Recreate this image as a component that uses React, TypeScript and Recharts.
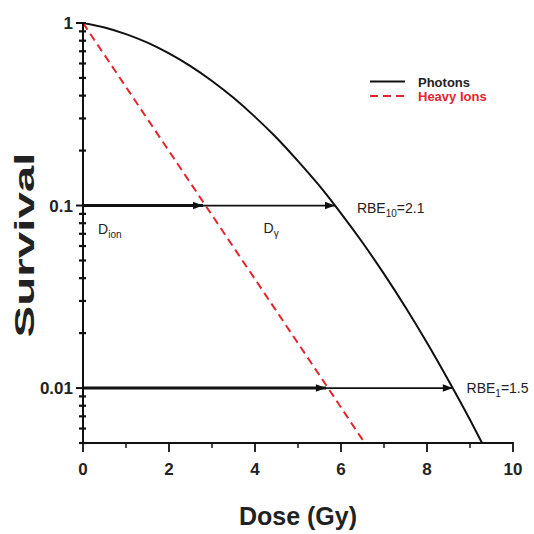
import React from "react";
import {
  LineChart,
  Line,
  XAxis,
  YAxis,
  Legend,
  Label,
  ReferenceDot,
} from "recharts";

// survival vs dose
const photonDose = [0, 0.5, 1, 1.5, 2, 2.5, 3, 3.5, 4, 4.5, 5, 5.5, 6, 6.5, 7, 7.5, 8, 8.5, 9, 9.28];
const photonSurvival = [
  1, 0.945, 0.869, 0.78, 0.681, 0.58, 0.481, 0.389, 0.306, 0.235, 0.175, 0.128, 0.0906, 0.0627,
  0.0422, 0.0277, 0.0177, 0.011, 0.0067, 0.005,
];

const ionDose = [0, 2.85, 5.7, 6.55];
const ionSurvival = [1, 0.1, 0.01, 0.005];

// iso-effect arrows: survival level, ion dose, photon dose
const isoLevels = [0.1, 0.01];
const isoIonDose = [2.79, 5.65];
const isoPhotonDose = [5.86, 8.6];
const rbeSubscripts = ["10", "1"];
const rbeValues = [2.1, 1.5];

const legendOrder = ["Photons", "Heavy Ions"];

const xTicks = [0, 1, 2, 3, 4, 5, 6, 7, 8, 9, 10];
const xLabelTicks = [0, 2, 4, 6, 8, 10];
const yMajorTicks = [0.01, 0.1, 1];
const yMinorTicks = [
  0.005, 0.006, 0.007, 0.008, 0.009,
  0.02, 0.03, 0.04, 0.05, 0.06, 0.07, 0.08, 0.09,
  0.2, 0.3, 0.4, 0.5, 0.6, 0.7, 0.8, 0.9,
];

const FONT = '"Liberation Sans", Arial, Helvetica, sans-serif';
const INK = "#111";
const RED = "#e3262d";

const rows = (xs: number[], ys: number[]) => xs.map((dose, i) => ({ dose, s: ys[i] }));

const photonRows = rows(photonDose, photonSurvival);
const ionRows = rows(ionDose, ionSurvival);

const arrowHead = (p: any) => {
  if (p.index !== 1 || p.cx == null) return <g key={p.key} />;
  const { cx, cy } = p;
  return (
    <polygon
      key={p.key}
      points={`${cx},${cy} ${cx - 10},${cy - 3.8} ${cx - 10},${cy + 3.8}`}
      fill={INK}
    />
  );
};

function XTick({ x, y, payload }: any) {
  const v = payload.value;
  const major = xLabelTicks.includes(v);
  return (
    <g>
      <line x1={x} x2={x} y1={y - 1} y2={y + (major ? 9 : 5)} stroke={INK} strokeWidth={major ? 1.8 : 1.5} />
      {major && (
        <text x={x} y={y + 32} textAnchor="middle" fontFamily={FONT} fontWeight="bold" fontSize={17} fill="#222">
          {v}
        </text>
      )}
    </g>
  );
}

function YTick({ x, y, payload }: any) {
  const v = payload.value;
  const major = yMajorTicks.includes(v);
  return (
    <g>
      <line x1={x - (major ? 7 : 4)} x2={x + 3} y1={y} y2={y} stroke={INK} strokeWidth={major ? 2 : 2.2} />
      {major && (
        <text x={x - 10} y={y + 6} textAnchor="end" fontFamily={FONT} fontWeight="bold" fontSize={17} fill="#222">
          {v}
        </text>
      )}
    </g>
  );
}

// text with a subscript, placed relative to a ReferenceDot
const subText = (main: string, sub: string, tail: string, dx: number, dy: number) => (props: any) => {
  const { x, y } = props.viewBox;
  return (
    <text x={x + dx} y={y + dy} fontFamily={FONT} fontSize={14} fill="#222">
      {main}
      <tspan dy={4} fontSize={10}>
        {sub}
      </tspan>
      <tspan dy={-4}>{tail}</tspan>
    </text>
  );
};

const renderLegend = ({ payload }: any) => {
  const entries = (payload || [])
    .filter((e: any) => e.type !== "none" && legendOrder.includes(e.value))
    .sort((a: any, b: any) => legendOrder.indexOf(a.value) - legendOrder.indexOf(b.value));
  return (
    <svg width={170} height={36}>
      {entries.map((e: any, i: number) => (
        <g key={e.value} transform={`translate(0, ${i * 14.5})`}>
          <line
            x1={8}
            x2={43}
            y1={11.5}
            y2={11.5}
            stroke={e.color}
            strokeWidth={2}
            strokeDasharray={e.payload?.strokeDasharray}
          />
          <text x={56} y={16.5} fill={e.color === INK ? "#222" : e.color} fontFamily={FONT} fontWeight="bold" fontSize={13}>
            {e.value}
          </text>
        </g>
      ))}
    </svg>
  );
};

export default function App() {
  return (
    <div style={{ position: "absolute", left: 0, top: 0, background: "#fff" }}>
      <LineChart width={534} height={534} margin={{ top: 23, right: 21, bottom: 0, left: 0 }}>
        <XAxis
          dataKey="dose"
          type="number"
          domain={[0, 10]}
          ticks={xTicks}
          interval={0}
          height={91}
          tickSize={0}
          tickMargin={0}
          tick={<XTick />}
          axisLine={{ stroke: INK, strokeWidth: 2 }}
          allowDataOverflow
        >
          <Label
            content={(p: any) => (
              <text
                x={p.viewBox.x + p.viewBox.width / 2}
                y={p.viewBox.y + 82}
                textAnchor="middle"
                fontFamily={FONT}
                fontWeight="bold"
                fontSize={25}
                fill="#222"
              >
                Dose (Gy)
              </text>
            )}
          />
        </XAxis>
        <YAxis
          dataKey="s"
          type="number"
          scale="log"
          domain={[0.005, 1]}
          ticks={[...yMinorTicks, ...yMajorTicks]}
          interval={0}
          width={83}
          tickSize={0}
          tickMargin={0}
          tick={<YTick />}
          axisLine={{ stroke: INK, strokeWidth: 2 }}
          allowDataOverflow
        >
          <Label
            content={(p: any) => {
              const cx = p.viewBox.x + 24;
              const cy = p.viewBox.y + p.viewBox.height / 2 + 12;
              return (
                <text
                  x={cx}
                  y={cy}
                  transform={`rotate(-90, ${cx}, ${cy})`}
                  textAnchor="middle"
                  dominantBaseline="central"
                  fontFamily={FONT}
                  fontWeight="bold"
                  fontSize={28}
                  textLength={185}
                  lengthAdjust="spacingAndGlyphs"
                  fill="#222"
                >
                  Survival
                </text>
              );
            }}
          />
        </YAxis>
        <Legend
          layout="vertical"
          align="center"
          verticalAlign="middle"
          wrapperStyle={{ left: 362, top: 70, width: 170 }}
          content={renderLegend}
        />

        {isoLevels.map((level, i) => (
          <Line
            key={`ion-${level}`}
            data={rows([0, isoIonDose[i]], [level, level])}
            dataKey="s"
            stroke={INK}
            strokeWidth={3}
            dot={arrowHead}
            legendType="none"
            isAnimationActive={false}
          />
        ))}
        {isoLevels.map((level, i) => (
          <Line
            key={`photon-${level}`}
            data={rows([isoIonDose[i], isoPhotonDose[i]], [level, level])}
            dataKey="s"
            stroke={INK}
            strokeWidth={1.8}
            dot={arrowHead}
            legendType="none"
            isAnimationActive={false}
          />
        ))}

        <Line
          name="Photons"
          data={photonRows}
          dataKey="s"
          type="monotone"
          stroke={INK}
          strokeWidth={2}
          dot={false}
          isAnimationActive={false}
        />
        <Line
          name="Heavy Ions"
          data={ionRows}
          dataKey="s"
          type="linear"
          stroke={RED}
          strokeWidth={2}
          strokeDasharray="8 5"
          dot={false}
          isAnimationActive={false}
        />

        <ReferenceDot x={0.35} y={0.1} r={0} fill="none" stroke="none" label={{ content: subText("D", "ion", "", 0, 28) }} />
        <ReferenceDot x={4.2} y={0.1} r={0} fill="none" stroke="none" label={{ content: subText("D", "γ", "", 0, 27) }} />
        {isoLevels.map((level, i) => (
          <ReferenceDot
            key={`rbe-${level}`}
            x={isoPhotonDose[i] + (i === 0 ? 0.51 : 0.32)}
            y={level}
            r={0}
            fill="none"
            stroke="none"
            label={{ content: subText("RBE", rbeSubscripts[i], `=${rbeValues[i]}`, 0, i === 0 ? 7 : 5) }}
          />
        ))}
      </LineChart>
    </div>
  );
}
